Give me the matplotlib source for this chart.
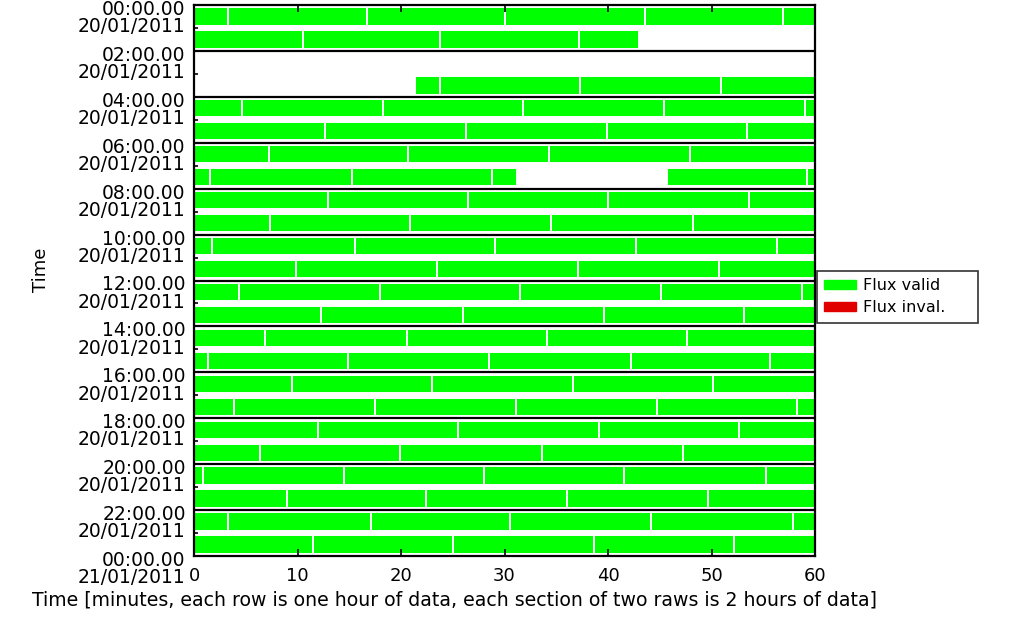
import matplotlib
matplotlib.use("Agg")
import matplotlib.pyplot as plt
import matplotlib.patches as mpatches
from matplotlib.transforms import ScaledTranslation

# one entry per hour-row (00:00 -> 23:00), valid-flux segments in minutes
segments = [
    [(0, 3.3), (3.3, 16.7), (16.7, 30.0), (30.0, 43.6), (43.6, 56.9), (56.9, 60)],
    [(0, 10.5), (10.5, 23.8), (23.8, 37.2), (37.2, 43.0)],
    [],
    [(21.4, 23.8), (23.8, 37.3), (37.3, 50.9), (50.9, 60)],
    [(0, 4.6), (4.6, 18.3), (18.3, 31.8), (31.8, 45.4), (45.4, 59.0), (59.0, 60)],
    [(0, 12.7), (12.7, 26.3), (26.3, 39.9), (39.9, 53.4), (53.4, 60)],
    [(0, 7.2), (7.2, 20.7), (20.7, 34.3), (34.3, 47.9), (47.9, 60)],
    [(0, 1.5), (1.5, 15.3), (15.3, 28.8), (28.8, 31.2), (45.7, 59.2), (59.2, 60)],
    [(0, 12.9), (12.9, 26.5), (26.5, 40.0), (40.0, 53.6), (53.6, 60)],
    [(0, 7.3), (7.3, 20.9), (20.9, 34.5), (34.5, 48.2), (48.2, 60)],
    [(0, 1.7), (1.7, 15.6), (15.6, 29.1), (29.1, 42.7), (42.7, 56.3), (56.3, 60)],
    [(0, 9.9), (9.9, 23.5), (23.5, 37.1), (37.1, 50.7), (50.7, 60)],
    [(0, 4.3), (4.3, 18.0), (18.0, 31.5), (31.5, 45.1), (45.1, 58.7), (58.7, 60)],
    [(0, 12.3), (12.3, 26.0), (26.0, 39.6), (39.6, 53.1), (53.1, 60)],
    [(0, 6.9), (6.9, 20.6), (20.6, 34.1), (34.1, 47.6), (47.6, 60)],
    [(0, 1.4), (1.4, 14.9), (14.9, 28.5), (28.5, 42.2), (42.2, 55.7), (55.7, 60)],
    [(0, 9.5), (9.5, 23.0), (23.0, 36.6), (36.6, 50.1), (50.1, 60)],
    [(0, 3.9), (3.9, 17.5), (17.5, 31.1), (31.1, 44.7), (44.7, 58.3), (58.3, 60)],
    [(0, 12.0), (12.0, 25.5), (25.5, 39.1), (39.1, 52.7), (52.7, 60)],
    [(0, 6.4), (6.4, 19.9), (19.9, 33.6), (33.6, 47.2), (47.2, 60)],
    [(0, 0.9), (0.9, 14.5), (14.5, 28.0), (28.0, 41.5), (41.5, 55.3), (55.3, 60)],
    [(0, 9.0), (9.0, 22.4), (22.4, 36.0), (36.0, 49.7), (49.7, 60)],
    [(0, 3.3), (3.3, 17.1), (17.1, 30.5), (30.5, 44.2), (44.2, 57.9), (57.9, 60)],
    [(0, 11.5), (11.5, 25.0), (25.0, 38.6), (38.6, 52.2), (52.2, 60)],
]

tick_times = ["00:00.00", "02:00.00", "04:00.00", "06:00.00", "08:00.00",
              "10:00.00", "12:00.00", "14:00.00", "16:00.00", "18:00.00",
              "20:00.00", "22:00.00", "00:00.00"]
tick_dates = ["20/01/2011"] * 12 + ["21/01/2011"]
x_ticks = [0, 10, 20, 30, 40, 50, 60]

GREEN = "#00ff00"
RED = "#e00000"

fig = plt.figure(figsize=(10.16, 6.30), dpi=100)
ax = fig.add_axes([194 / 1016, 1 - 556 / 630, (815 - 194) / 1016, (556 - 5) / 630])

for i, segs in enumerate(segments):
    if segs:
        ax.broken_barh([(s, e - s) for s, e in segs], (i + 0.1, 0.8),
                       facecolors=GREEN, edgecolor="white", linewidth=1.4)

for y in range(2, 24, 2):
    ax.axhline(y, color="black", linewidth=1.6)

ax.set_xlim(0, 60)
ax.set_ylim(24, 0)

ax.set_xticks(x_ticks)
ax.set_xticklabels([str(t) for t in x_ticks], fontsize=13)
ax.tick_params(axis="x", direction="in", top=True, length=5, width=1.2, pad=8)

ax.set_yticks(range(0, 25, 2))
ax.set_yticklabels([f"{t}\n{d}" for t, d in zip(tick_times, tick_dates)],
                   fontsize=13.5, linespacing=0.88)
ax.set_yticks(range(1, 24, 2), minor=True)
ax.tick_params(axis="y", which="both", direction="in", length=3, width=1.2, pad=6)
shift = ScaledTranslation(0, -12 / 100, fig.dpi_scale_trans)
for lab in ax.get_yticklabels():
    lab.set_transform(lab.get_transform() + shift)

for sp in ax.spines.values():
    sp.set_linewidth(1.6)
    sp.set_color("black")

ax.set_xlabel("Time [minutes, each row is one hour of data, each section of two raws is 2 hours of data]",
              fontsize=13.6)
ax.xaxis.set_label_coords(0.42, -0.062)
ax.set_ylabel("Time", fontsize=13)
ax.yaxis.set_label_coords(-0.232, 0.52)

patch_v = mpatches.Patch(color=GREEN, label="Flux valid")
patch_i = mpatches.Patch(color=RED, label="Flux inval.")
leg = fig.legend(handles=[patch_v, patch_i], loc="upper left", mode="expand",
                 bbox_to_anchor=(817 / 1016, 1 - 326 / 630, 161 / 1016, 55 / 630),
                 fontsize=11.5, frameon=True, fancybox=False, edgecolor="black",
                 borderaxespad=0, handlelength=2.0, handleheight=0.5,
                 handletextpad=0.4, borderpad=0.45, labelspacing=0.45)
leg.get_frame().set_linewidth(1.2)

fig.savefig("out.png", dpi=100)
